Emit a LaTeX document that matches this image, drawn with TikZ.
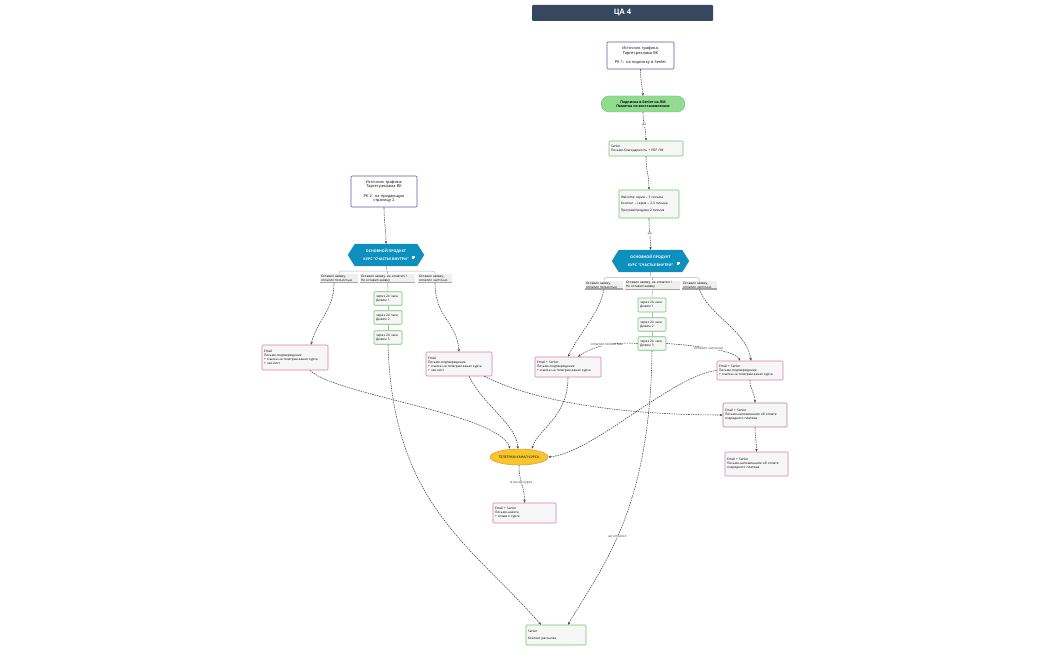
\documentclass[tikz,border=0pt]{standalone}
\usepackage{fontspec}
\setmainfont{Open Sans}
\usetikzlibrary{arrows.meta,backgrounds,shapes.geometric}
\definecolor{titlec}{HTML}{37475F}
\definecolor{srcc}{HTML}{5B5B9E}
\definecolor{pillc}{HTML}{8FDC8F}
\definecolor{greenc}{HTML}{6CC66C}
\definecolor{pinkc}{HTML}{E07AB0}
\definecolor{boxfill}{HTML}{F6F6F6}
\definecolor{hexc}{HTML}{0E90BE}
\definecolor{tgfill}{HTML}{F7C52C}
\definecolor{tgline}{HTML}{E8962A}
\definecolor{branchc}{HTML}{EFEFEF}
\definecolor{connc}{HTML}{444444}
\definecolor{treec}{HTML}{B5B5B5}
\begin{document}
\begin{tikzpicture}[x=1pt,y=-1pt,
  titlebar/.style={fill=titlec,minimum width=181pt,minimum height=16pt,rounded corners=1pt,text=white,font=\bfseries\fontsize{7.5}{9}\selectfont},
  srcbox/.style={draw=srcc,fill=white,line width=0.6pt,rounded corners=1pt,align=center,inner xsep=2pt,font=\fontsize{3.9}{4.8}\selectfont},
  pillbox/.style={fill=pillc,draw=pillc!80!black,line width=0.3pt,rounded corners=8pt,minimum width=84pt,minimum height=16pt,align=center,font=\bfseries\fontsize{3.5}{4.5}\selectfont},
  greenbox/.style={draw=greenc,fill=boxfill,line width=0.6pt,rounded corners=1pt,align=left,inner xsep=2pt,font=\fontsize{3.2}{4}\selectfont},
  pinkbox/.style={draw=pinkc,fill=boxfill,line width=0.6pt,rounded corners=1pt,align=left,inner xsep=2pt,font=\fontsize{3.2}{4}\selectfont},
  hexbox/.style={minimum width=77pt,minimum height=22pt,align=center,text=white,font=\bfseries\fontsize{3.6}{4.4}\selectfont},
  branch/.style={fill=branchc,align=left,inner xsep=1pt,inner ysep=1pt,font=\fontsize{3.2}{3.9}\selectfont,
     path picture={\draw[line width=1.4pt,gray!70] (path picture bounding box.south west) -- (path picture bounding box.south east);}},
  tgell/.style={ellipse,fill=tgfill,draw=tgline,line width=0.5pt,minimum width=58pt,minimum height=16pt,inner sep=0pt,font=\fontsize{3.4}{4}\selectfont},
  conn/.style={draw=connc,line width=0.55pt,dash pattern=on 1.5pt off 0.9pt,-{Stealth[length=2.8pt,width=2.4pt]}},
  tree/.style={draw=treec,line width=0.5pt},
  lab/.style={fill=white,inner sep=0.4pt,text=gray!45!black,font=\fontsize{3.3}{3.8}\selectfont},
  icon/.style={draw=#1,line width=0.3pt}
]
\useasboundingbox (0,0) rectangle (1050,650);

% ---------------- title ----------------
\node[titlebar] (title) at (622.5,13) {ЦА 4};

% ---------------- right branch ----------------
\node[srcbox,text width=63pt,minimum height=27pt] (srcR) at (640.5,55.5)
  {Источник трафика:\\Таргет.реклама ВК\\[4.5pt]РК 1: на подписку в Senler};
\node[pillbox] (pill) at (643,104) {Подписка в Senler на ЛМ\\Памятка по восстановлению\hspace{5pt}};
\draw[icon=gray!50] ([xshift=-11pt,yshift=1pt]pill.east) -- ++(3,0) ([xshift=-11pt,yshift=0pt]pill.east) -- ++(3,0) ([xshift=-11pt,yshift=-1pt]pill.east) -- ++(2,0);
\node[greenbox,text width=70pt,minimum height=15pt] (senler1) at (646,148.5)
  {Senler\\Письмо-благодарность + PDF ЛМ};
\node[greenbox,text width=56pt,minimum height=28pt] (welcome) at (649,204)
  {Welcome серия -- 3 письма\\[2.5pt]Контент -- серия -- 2-3 письма\\[2.5pt]Прогрев/продажа 2 письма};
\node[hexbox] (hexR) at (650.5,261) {ОСНОВНОЙ ПРОДУКТ\\[3pt]КУРС "СЧАСТЬЕ ВНУТРИ"};
\draw[icon=white] ([xshift=-12pt,yshift=-1pt]hexR.east) -- ++(3,0) ([xshift=-12pt,yshift=-2pt]hexR.east) -- ++(3,0) ([xshift=-12pt,yshift=-3pt]hexR.east) -- ++(2,0);

\node[branch,text width=36pt] (R1) at (604,285) {Оставил заявку,\\оплатил полностью};
\node[branch,text width=53pt] (R2) at (652.5,285) {Оставил заявку, не оплатил /\\Не оставил заявку};
\node[branch,text width=33pt] (R3) at (699.5,285) {Оставил заявку,\\оплатил частично};

\node[greenbox,text width=24pt,minimum height=14pt] (dzR1) at (652,305) {через 24 часа\\Дожим 1};
\node[greenbox,text width=24pt,minimum height=13pt] (dzR2) at (652,324.5) {через 24 часа\\Дожим 2};
\node[greenbox,text width=24pt,minimum height=13pt] (dzR3) at (652,343.5) {через 24 часа\\Дожим 3};

\node[pinkbox,text width=62pt,minimum height=20pt] (emR1) at (568,367)
  {Email + Senler\\Письмо-подтверждение\\+ ссылка на телеграм-канал курса};
\node[pinkbox,text width=62pt,minimum height=19pt] (emR2) at (750,370.5)
  {Email + Senler\\Письмо-подтверждение\\+ ссылка на телеграм-канал курса};
\node[pinkbox,draw=pinkc!60!gray,text width=60pt,minimum height=24pt] (remR1) at (755,415)
  {Email + Senler\\Письмо-напоминание об оплате\\очередного платежа};
\node[pinkbox,text width=59pt,minimum height=24pt] (remR2) at (756.5,464)
  {Email + Senler\\Письмо-напоминание об оплате\\очередного платежа};

% ---------------- left branch ----------------
\node[srcbox,text width=62pt,minimum height=31pt] (srcL) at (384,191.5)
  {Источник трафика:\\Таргет.реклама ВК\\[4.5pt]РК 2: на продающую\\страницу 2};
\node[hexbox,minimum width=76pt] (hexL) at (386,255) {ОСНОВНОЙ ПРОДУКТ\\[3pt]КУРС "СЧАСТЬЕ ВНУТРИ"};
\draw[icon=white] ([xshift=-12pt,yshift=-1pt]hexL.east) -- ++(3,0) ([xshift=-12pt,yshift=-2pt]hexL.east) -- ++(3,0) ([xshift=-12pt,yshift=-3pt]hexL.east) -- ++(2,0);

\node[branch,text width=36pt] (L1) at (339,278.5) {Оставил заявку,\\оплатил полностью};
\node[branch,text width=53pt] (L2) at (387.5,278.5) {Оставил заявку, не оплатил /\\Не оставил заявку};
\node[branch,text width=32pt] (L3) at (435,278.5) {Оставил заявку,\\оплатил частично};

\node[greenbox,text width=24pt,minimum height=13pt] (dzL1) at (388,298.5) {через 24 часа\\Дожим 1};
\node[greenbox,text width=24pt,minimum height=13pt] (dzL2) at (388,317.5) {через 24 часа\\Дожим 2};
\node[greenbox,text width=24pt,minimum height=13pt] (dzL3) at (388,337.5) {через 24 часа\\Дожим 3};

\node[pinkbox,text width=62pt,minimum height=25pt] (emL1) at (295,357.5)
  {Email\\Письмо-подтверждение\\+ ссылка на телеграм-канал курса\\+ чек-лист};
\node[pinkbox,text width=62pt,minimum height=24pt] (emL2) at (459,364)
  {Email\\Письмо-подтверждение\\+ ссылка на телеграм-канал курса\\+ чек-лист};

% ---------------- bottom ----------------
\node[tgell] (tg) at (519,457) {ТЕЛЕГРАМ КАНАЛ КУРСА};
\node[pinkbox,text width=59pt,minimum height=20pt] (anketa) at (524.5,513)
  {Email + Senler\\Письмо-анкета\\+ отзыв о курсе};
\node[greenbox,text width=56pt,minimum height=20pt] (content) at (556,635)
  {Senler\\[3pt]Контент-рассылка};

% hexagon backgrounds
\begin{scope}[on background layer]
\foreach \h in {hexR,hexL}
  \fill[hexc] (\h.west) -- ([xshift=7pt]\h.north west) -- ([xshift=-7pt]\h.north east) -- (\h.east)
     -- ([xshift=-7pt]\h.south east) -- ([xshift=7pt]\h.south west) -- cycle;
\end{scope}

% ---------------- tree lines ----------------
\draw[tree] (hexR.south) -- ++(0,4);
\draw[tree,rounded corners=2pt] (R1.north) -- ++(0,-3) -| (R3.north);
\draw[tree] (R2.north) -- ++(0,-3);
\draw[tree] (R2.south) -- (dzR1.north);
\draw[tree] (dzR1.south) -- (dzR2.north);
\draw[tree] (dzR2.south) -- (dzR3.north);

\draw[tree] (hexL.south) -- ++(0,4);
\draw[tree,rounded corners=2pt] (L1.north) -- ++(0,-3) -| (L3.north);
\draw[tree] (L2.north) -- ++(0,-3);
\draw[tree] (L2.south) -- (dzL1.north);
\draw[tree] (dzL1.south) -- (dzL2.north);
\draw[tree] (dzL2.south) -- (dzL3.north);

% ---------------- connectors right ----------------
\draw[conn] (srcR.south) .. controls +(0,12) and +(-1,-12) .. (pill.north);
\draw[conn] (pill.south) .. controls +(0,14) and +(0,-14) .. (senler1.north) node[lab,pos=0.45]{да};
\draw[conn] (senler1.south) .. controls +(0,16) and +(0,-16) .. (welcome.north);
\draw[conn] (welcome.south) .. controls +(0,16) and +(0,-16) .. (hexR.north) node[lab,pos=0.5]{да};

\draw[conn] (R1.south) .. controls +(-5,25) and +(12,-25) .. (emR1.north);
\draw[conn] (dzR3.west) .. controls +(-25,-2) and +(14,-10) .. ([xshift=10pt]emR1.north) node[lab,pos=0.45]{оплатил полностью};
\draw[conn] (dzR3.east) .. controls +(30,2) and +(-4,-10) .. ([xshift=-10pt]emR2.north) node[lab,pos=0.45]{оплатил частично};
\draw[conn] (R3.south) .. controls +(8,25) and +(-4,-30) .. ([xshift=1pt]emR2.north);
\draw[conn] (dzR3.south) .. controls +(-2,160) and +(35,-60) .. ([xshift=12pt]content.north) node[lab,pos=0.55]{не оплатил};
\draw[conn] (emR2.south) .. controls +(0,10) and +(0,-10) .. (remR1.north);
\draw[conn] (remR1.south) .. controls +(0,12) and +(0,-12) .. (remR2.north);
\draw[conn] (emR2.west) .. controls +(-45,5) and +(45,-4) .. (tg.east);
\draw[conn] (emR1.south) .. controls +(0,40) and +(6,-20) .. ([xshift=13pt]tg.north);

% ---------------- connectors left ----------------
\draw[conn] (srcL.south) .. controls +(0,16) and +(0,-16) .. (hexL.north);
\draw[conn] ([xshift=-5pt]L1.south) .. controls +(0,28) and +(6,-25) .. ([xshift=16pt]emL1.north);
\draw[conn] (L3.south) .. controls +(0,35) and +(-2,-30) .. (emL2.north);
\draw[conn] (dzL3.south) .. controls +(5,160) and +(-70,-80) .. ([xshift=-15pt]content.north);
\draw[conn] ([xshift=15pt]emL1.south) .. controls +(25,25) and +(-10,-35) .. ([xshift=-9pt]tg.north);
\draw[conn] ([xshift=10pt]emL2.south) .. controls +(15,30) and +(-2,-25) .. ([xshift=-1pt]tg.north);
\draw[conn] ([xshift=-8pt]emL2.south east) .. controls +(60,30) and +(-80,0) .. (remR1.west);

% ---------------- bottom connectors ----------------
\draw[conn] (tg.south) .. controls +(0,18) and +(0,-18) .. (anketa.north) node[lab,pos=0.45]{в конце курса};
\end{tikzpicture}
\end{document}
